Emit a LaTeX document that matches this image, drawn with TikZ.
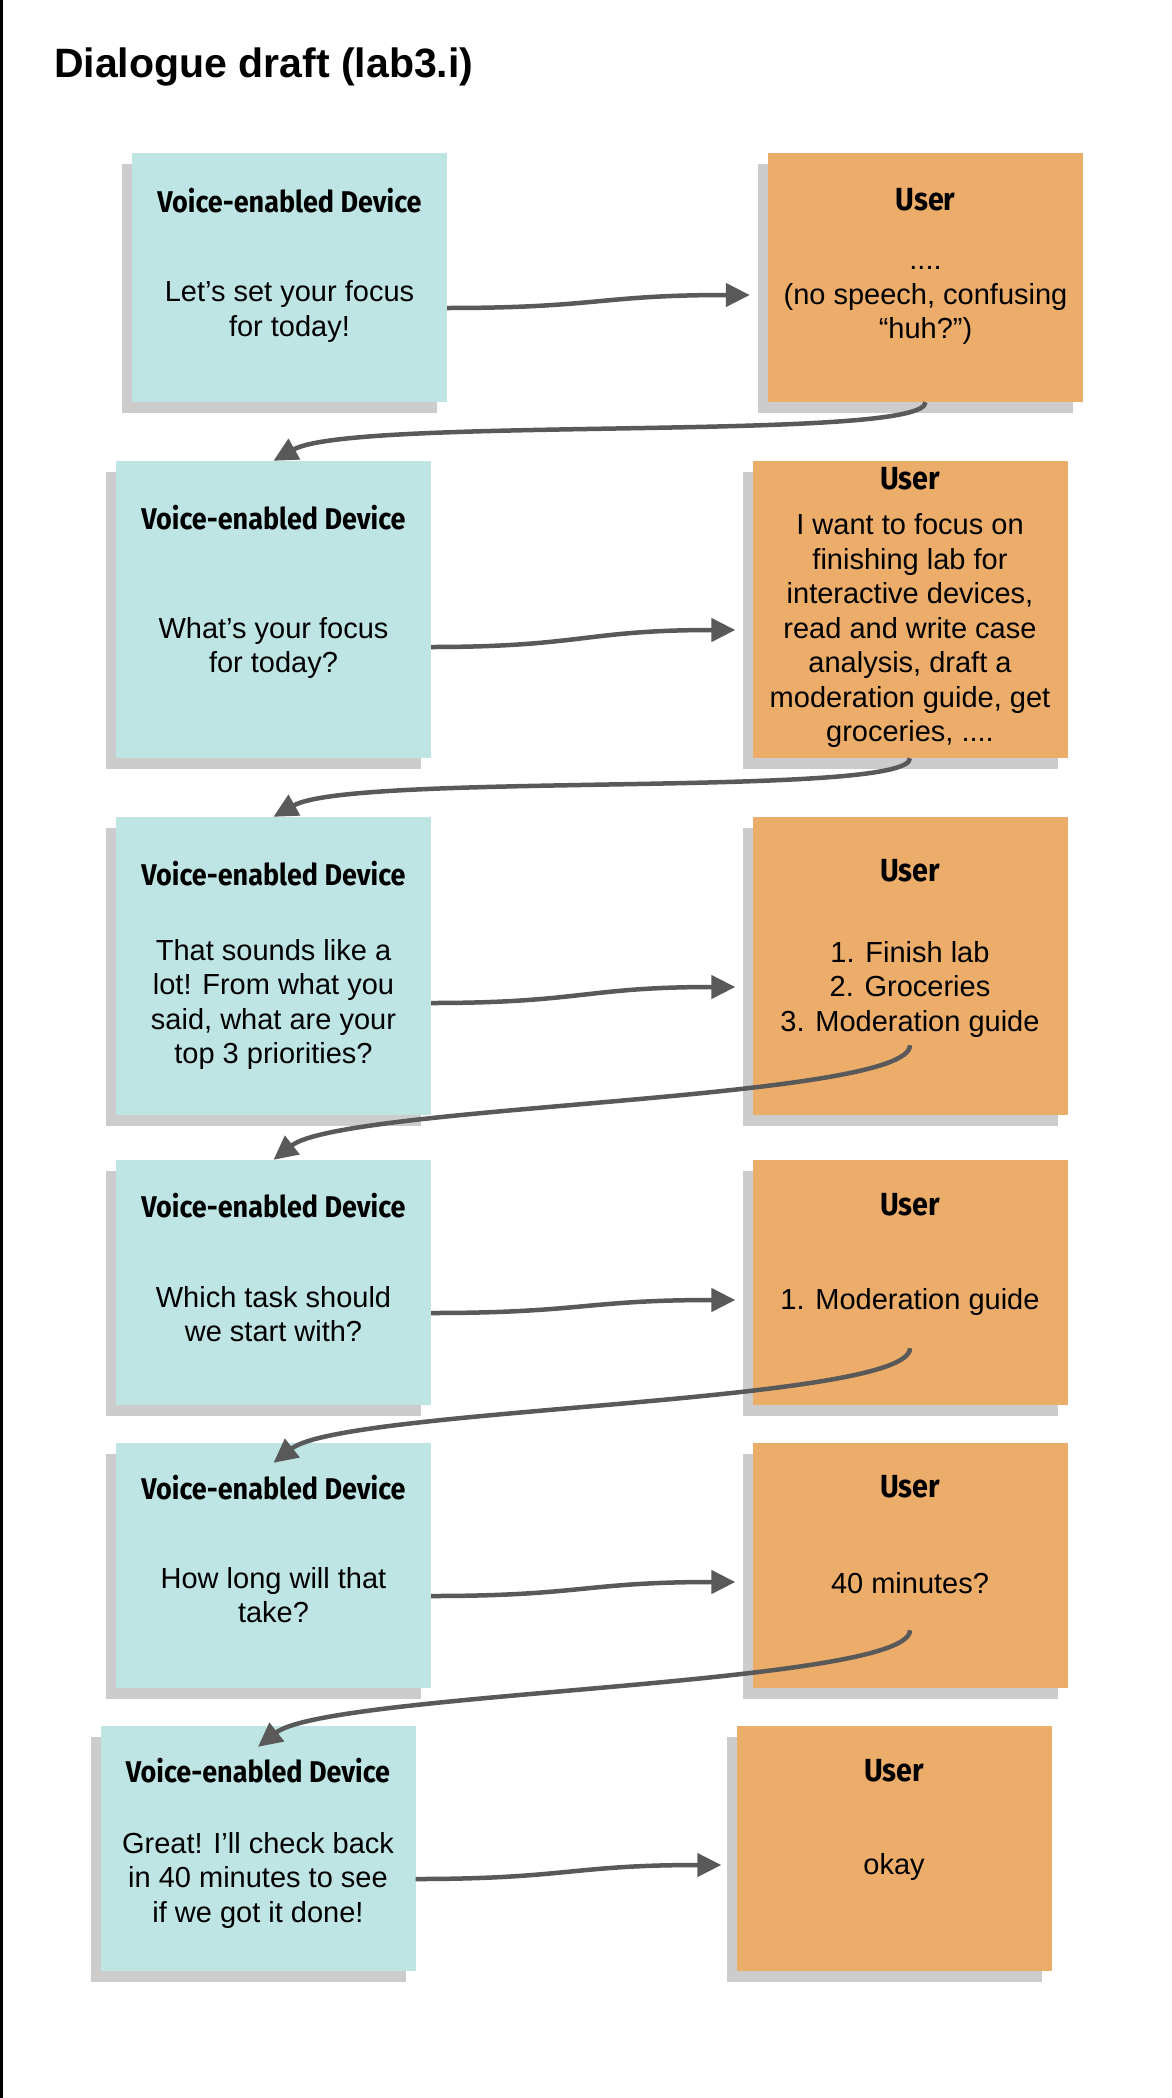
\documentclass[tikz,border=0pt]{standalone}
\usepackage{fontspec}
\setmainfont{Liberation Sans}
\newfontfamily\headfont[FakeStretch=0.9]{Fira Sans}
\usetikzlibrary{arrows.meta,shadows}
\definecolor{devfill}{HTML}{BEE4E4}
\definecolor{userfill}{HTML}{ECAC6A}
\definecolor{shadowgray}{HTML}{CCCCCC}
\definecolor{wire}{HTML}{595959}
\tikzset{
    card/.style={minimum width=315pt,inner sep=0pt,draw=none,
        drop shadow={shadow xshift=-10pt,shadow yshift=-11pt,fill=shadowgray,opacity=1}},
    dev/.style={card,fill=devfill},
    usr/.style={card,fill=userfill},
    head/.style={anchor=base,inner sep=0pt,font=\headfont\bfseries\fontsize{30}{36}\selectfont},
    who/.style={head,font=\headfont\bfseries\fontsize{32}{38}\selectfont},
    say/.style={anchor=north,inner sep=0pt,align=center,font=\fontsize{29}{34.5}\selectfont},
    flow/.style={draw=wire,line width=4.5pt,-{Triangle[length=24pt,width=23pt]}}
}
\begin{document}
\begin{tikzpicture}[x=1pt,y=-1pt]
    \useasboundingbox[fill=white] (0,0) rectangle (1172,2098);
    \draw[line width=2.5pt] (1.25,0) -- (1.25,2098);
    \node[anchor=base west,inner sep=0pt,font=\bfseries\fontsize{41}{48}\selectfont] (title) at (54,78) {Dialogue draft (lab3.i)};

    \node[dev,minimum height=249pt] (d1) at (289.5,277.5) {};
    \node[usr,minimum height=249pt] (u1) at (925.5,277.5) {};
    \node[dev,minimum height=297pt] (d2) at (273.5,609.5) {};
    \node[usr,minimum height=297pt] (u2) at (910,609.5) {};
    \node[dev,minimum height=298pt] (d3) at (273.5,966) {};
    \node[usr,minimum height=298pt] (u3) at (910,966) {};
    \node[dev,minimum height=245pt] (d4) at (273.5,1282.5) {};
    \node[usr,minimum height=245pt] (u4) at (910,1282.5) {};
    \node[dev,minimum height=245pt] (d5) at (273.5,1565.5) {};
    \node[usr,minimum height=245pt] (u5) at (910,1565.5) {};
    \node[dev,minimum height=245pt] (d6) at (258,1848.5) {};
    \node[usr,minimum height=245pt] (u6) at (894,1848.5) {};

    \node[head] (d1h) at ([yshift=-60pt]d1.north) {Voice-enabled Device};
    \node[say] (d1t) at ([yshift=-128pt]d1.north) {Let’s set your focus\\for today!};
    \node[who] (u1h) at ([yshift=-58pt]u1.north) {User};
    \node[say] (u1t) at ([yshift=-113.5pt]u1.north) {....\\(no speech, confusing\\“huh?”)};

    \node[head] (d2h) at ([yshift=-69pt]d2.north) {Voice-enabled Device};
    \node[say] (d2t) at ([yshift=-156pt]d2.north) {What’s your focus\\for today?};
    \node[who] (u2h) at ([yshift=-29pt]u2.north) {User};
    \node[say] (u2t) at ([yshift=-53pt]u2.north) {I want to focus on\\finishing lab for\\interactive devices,\\read and write case\\analysis, draft a\\moderation guide, get\\groceries, ....};

    \node[head] (d3h) at ([yshift=-69pt]d3.north) {Voice-enabled Device};
    \node[say] (d3t) at ([yshift=-122pt]d3.north) {That sounds like a\\lot! From what you\\said, what are your\\top 3 priorities?};
    \node[who] (u3h) at ([yshift=-65pt]u3.north) {User};
    \node[say] (u3t) at ([yshift=-124pt]u3.north) {1. Finish lab\\2. Groceries\\3. Moderation guide};

    \node[head] (d4h) at ([yshift=-58pt]d4.north) {Voice-enabled Device};
    \node[say] (d4t) at ([yshift=-126pt]d4.north) {Which task should\\we start with?};
    \node[who] (u4h) at ([yshift=-56pt]u4.north) {User};
    \node[say] (u4t) at ([yshift=-128pt]u4.north) {1. Moderation guide};

    \node[head] (d5h) at ([yshift=-57pt]d5.north) {Voice-enabled Device};
    \node[say] (d5t) at ([yshift=-124pt]d5.north) {How long will that\\take?};
    \node[who] (u5h) at ([yshift=-55pt]u5.north) {User};
    \node[say] (u5t) at ([yshift=-129pt]u5.north) {40 minutes?};

    \node[head] (d6h) at ([yshift=-57pt]d6.north) {Voice-enabled Device};
    \node[say] (d6t) at ([yshift=-106pt]d6.north) {Great! I’ll check back\\in 40 minutes to see\\if we got it done!};
    \node[who] (u6h) at ([yshift=-56pt]u6.north) {User};
    \node[say] (u6t) at ([yshift=-127pt]u6.north) {okay};

    \draw[flow] ([yshift=-30.5pt]d1.east) .. controls +(150,0) and +(-150,0) .. ([xshift=-18pt,yshift=-17.5pt]u1.west);
    \draw[flow] ([yshift=-37.5pt]d2.east) .. controls +(150,0) and +(-150,0) .. ([xshift=-17pt,yshift=-20.5pt]u2.west);
    \draw[flow] ([yshift=-37pt]d3.east) .. controls +(150,0) and +(-150,0) .. ([xshift=-17pt,yshift=-21pt]u3.west);
    \draw[flow] ([yshift=-30.5pt]d4.east) .. controls +(150,0) and +(-150,0) .. ([xshift=-17pt,yshift=-17.5pt]u4.west);
    \draw[flow] ([yshift=-30.5pt]d5.east) .. controls +(150,0) and +(-150,0) .. ([xshift=-17pt,yshift=-16.5pt]u5.west);
    \draw[flow] ([yshift=-30.5pt]d6.east) .. controls +(150,0) and +(-150,0) .. ([xshift=-15pt,yshift=-16.5pt]u6.west);

    \draw[flow] (u1.south) .. controls +(0,40) and +(80,-45) .. (d2.north);
    \draw[flow] (u2.south) .. controls +(0,40) and +(80,-45) .. (d3.north);
    \draw[flow] ([yshift=70pt]u3.south) .. controls +(0,55) and +(70,-55) .. (d4.north);
    \draw[flow] ([yshift=57pt]u4.south) .. controls +(0,55) and +(70,-55) .. ([yshift=-20pt]d5.north);
    \draw[flow] ([yshift=58pt]u5.south) .. controls +(0,55) and +(70,-55) .. ([yshift=-21pt]d6.north);
\end{tikzpicture}
\end{document}
